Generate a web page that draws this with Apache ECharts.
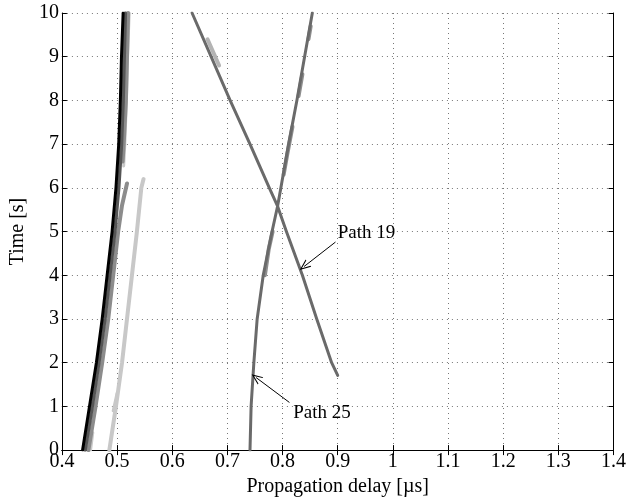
<!DOCTYPE html>
<html>
<head>
<meta charset="utf-8">
<script src="https://cdn.jsdelivr.net/npm/echarts@6/dist/echarts.min.js"></script>
<style>html,body{margin:0;padding:0;background:#fff}#c{width:629px;height:502px}</style>
</head>
<body>
<div id="c"></div>
<script>
// Time samples [s]
var timeSteps = [0, 1, 2, 3, 4, 5, 6, 7, 8, 9, 10];
// Left cluster (propagation delay in µs at each time step)
var blackDelay = [0.4375, 0.450, 0.4625, 0.473, 0.482, 0.491, 0.498, 0.503, 0.506, 0.508, 0.511];
var darkDelay  = [0.442, 0.455, 0.467, 0.478, 0.487, 0.496, 0.503, 0.508, 0.511, 0.513, 0.515];
var midTime    = [0, 1, 2, 3, 4, 5, 5.6, 6.1, null, 6.6, 7, 8, 9, 10];
var midDelay   = [0.448, 0.461, 0.473, 0.484, 0.493, 0.502, 0.509, 0.518, null, 0.510, 0.512, 0.516, 0.518, 0.520];
// Light-gray path (ends near 6.2 s)
var lightTime  = [0, 1, 2, 3, 4, 5, 6, 6.2];
var lightDelay = [0.486, 0.498, 0.509, 0.518, 0.527, 0.536, 0.544, 0.548];
var lightTopTime  = [6.5, 7, 8, 9, 10];
var lightTopDelay = [0.512, 0.514, 0.517, 0.519, 0.522];
var lightLowTime  = [0, 0.4, null, 0.9, 1.3];
var lightLowDelay = [0.452, 0.456, null, 0.493, 0.500];
// Path 19 (decreasing delay over time)
var p19Time  = [1.71, 2, 3, 4, 5, 5.58, 6, 7, 8, 9, 10];
var p19Delay = [0.900, 0.889, 0.862, 0.836, 0.807, 0.791, 0.776, 0.741, 0.705, 0.6705, 0.636];
var p19LightTime  = [8.8, 9.4];
var p19LightDelay = [0.685, 0.664];
// Path 25 (increasing delay over time)
var p25Time  = [0, 1, 2, 3, 4, 5, 5.58, 6, 7, 8, 9, 10];
var p25Delay = [0.741, 0.743, 0.748, 0.754, 0.765, 0.781, 0.791, 0.797, 0.811, 0.826, 0.840, 0.854];
var p25LightTime  = [4.0, 4.6, 5.0, null, 6.3, 6.8, 7.4, null, 8.1, 8.6, null, 9.4, 9.7];
var p25LightDelay = [0.768, 0.775, 0.782, null, 0.802, 0.809, 0.818, null, 0.829, 0.836, null, 0.847, 0.851];
// Annotations
var annotations = [
  {text: 'Path 19', label: [0.9, 4.97], from: [0.896, 4.76], to: [0.839, 4.2]},
  {text: 'Path 25', label: [0.8195, 0.84], from: [0.8125, 1.09], to: [0.752, 1.66]}
];
var xTicks = {min: 0.4, max: 1.4, interval: 0.1};
var yTicks = {min: 0, max: 10, interval: 1};

function pairs(xs, ts) {
  return ts.map(function (t, i) { return (t === null || xs[i] === null) ? [null, null] : [xs[i], t]; });
}
var FONT = 'Liberation Serif';
var FS = 20;
var FS_ANN = 19;
function lineSeries(name, xs, ts, color, width, z) {
  return {
    name: name, type: 'line', data: pairs(xs, ts), showSymbol: false, symbol: 'none',
    connectNulls: false, smooth: false, z: z,
    lineStyle: {color: color, width: width, cap: 'round', join: 'round'}, animation: false
  };
}
var chart = echarts.init(document.getElementById('c'), null, {renderer: 'canvas'});
var arrowSym = 'path://M5,0 L10,12 L8.8,12 L5,3 L1.2,12 L0,12 Z';
var series = [
  lineSeries('lightLow', lightLowDelay, lightLowTime, '#c8c8c8', 3, 2),
  lineSeries('lightTop', lightTopDelay, lightTopTime, '#c8c8c8', 3, 2),
  lineSeries('light', lightDelay, lightTime, '#c8c8c8', 4, 2),
  lineSeries('mid', midDelay, midTime, '#8c8c8c', 4, 3),
  lineSeries('dark', darkDelay, timeSteps, '#555555', 3.5, 4),
  lineSeries('black', blackDelay, timeSteps, '#000000', 3, 5),
  lineSeries('p19light', p19LightDelay, p19LightTime, '#b4b4b4', 4, 2),
  lineSeries('p25light', p25LightDelay, p25LightTime, '#8e8e8e', 4, 3),
  lineSeries('p25', p25Delay, p25Time, '#6a6a6a', 3, 4),
  lineSeries('p19', p19Delay, p19Time, '#6a6a6a', 3, 4)
];
series.push({
  type: 'line', data: [], silent: true, animation: false,
  markLine: {
    silent: true, animation: false, symbol: ['none', arrowSym], symbolSize: [9, 11],
    lineStyle: {color: '#000', width: 1, type: 'solid'}, label: {show: false},
    data: annotations.map(function (a) { return [{coord: a.from}, {coord: a.to}]; })
  },
  markPoint: {
    silent: true, animation: false, symbol: 'circle', symbolSize: 0,
    label: {show: true, position: 'right', distance: 0, color: '#000', fontFamily: FONT, fontSize: FS_ANN,
      formatter: function (p) { return p.name; }},
    data: annotations.map(function (a) { return {name: a.text, coord: a.label}; })
  }
});
var axisCommon = {
  type: 'value',
  axisLine: {show: true, lineStyle: {color: '#000', width: 1}},
  axisTick: {show: true, inside: true, length: 5, lineStyle: {color: '#000'}},
  axisLabel: {color: '#000', fontFamily: FONT, fontSize: FS},
  splitLine: {show: false}
};
chart.setOption({
  animation: false,
  backgroundColor: '#fff',
  grid: {left: 57, right: 12, top: 13, bottom: 50, containLabel: false},
  xAxis: [
    Object.assign({}, axisCommon, {
      position: 'bottom', min: xTicks.min, max: xTicks.max, interval: xTicks.interval,
      name: 'Propagation delay [\u00b5s]', nameLocation: 'middle', nameGap: 25,
      nameTextStyle: {color: '#000', fontFamily: FONT, fontSize: FS},
      axisLabel: {color: '#000', fontFamily: FONT, fontSize: FS, margin: 2},
      splitLine: {show: true, lineStyle: {color: '#777', type: [1, 4], width: 1}}
    }),
    Object.assign({}, axisCommon, {
      position: 'top', min: xTicks.min, max: xTicks.max, interval: xTicks.interval,
      axisLabel: {show: false}
    })
  ],
  yAxis: [
    Object.assign({}, axisCommon, {
      position: 'left', min: yTicks.min, max: yTicks.max, interval: yTicks.interval,
      name: 'Time [s]', nameLocation: 'middle', nameGap: 30,
      nameTextStyle: {color: '#000', fontFamily: FONT, fontSize: FS},
      axisLabel: {color: '#000', fontFamily: FONT, fontSize: FS, margin: 3},
      splitLine: {show: true, lineStyle: {color: '#777', type: [1, 4], width: 1}}
    }),
    Object.assign({}, axisCommon, {
      position: 'right', min: yTicks.min, max: yTicks.max, interval: yTicks.interval,
      axisLabel: {show: false}
    })
  ],
  series: series
});
</script>
</body>
</html>
